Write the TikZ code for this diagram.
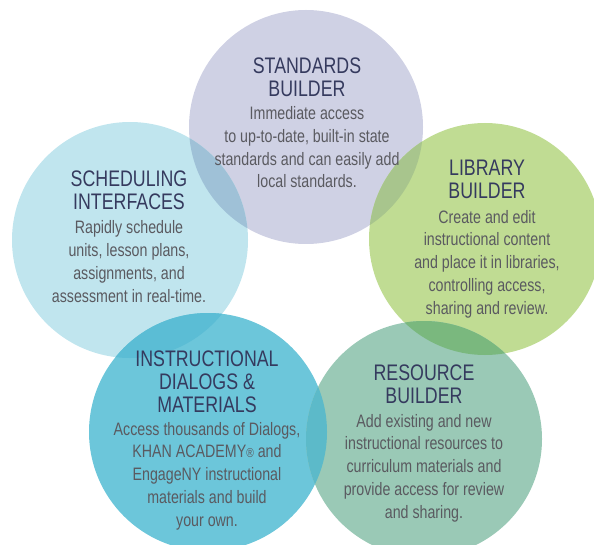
\documentclass[tikz,border=0pt]{standalone}
\usepackage{fontspec}
\setmainfont[FakeStretch=0.79]{Liberation Sans}
\definecolor{cStd}{HTML}{CFD1E4}
\definecolor{cSch}{HTML}{C0E5EE}
\definecolor{cLib}{HTML}{C0DC93}
\definecolor{cIns}{HTML}{6CC6DA}
\definecolor{cRes}{HTML}{9AC9B6}
\definecolor{oSS}{HTML}{9FC1D7}
\definecolor{oSL}{HTML}{A8C58D}
\definecolor{oSI}{HTML}{5BBDD5}
\definecolor{oIR}{HTML}{5CBAC9}
\definecolor{oLR}{HTML}{7AB87E}
\definecolor{ttlcol}{HTML}{353A5E}
\definecolor{bodycol}{HTML}{5A5A60}
\tikzset{
  ttl/.style={anchor=base, align=center, text=ttlcol, inner sep=0pt,
    font=\fontsize{22.5}{23}\selectfont},
  bdy/.style={anchor=base, align=center, text=bodycol, inner sep=0pt,
    font=\fontsize{18}{22.7}\selectfont}
}
\begin{document}
\begin{tikzpicture}[x=1pt,y=-1pt]
\useasboundingbox (0,0) rectangle (594,545);
\def\Cstd{(306,127) circle (117)}
\def\Csch{(130,240) circle (118)}
\def\Clib{(485,239) circle (116)}
\def\Cins{(208,432) circle (119)}
\def\Cres{(424,439) circle (118)}
% base circles
\fill[cStd] \Cstd;
\fill[cSch] \Csch;
\fill[cLib] \Clib;
\fill[cIns] \Cins;
\fill[cRes] \Cres;
% overlaps
\begin{scope}\clip \Cstd; \fill[oSS] \Csch; \end{scope}
\begin{scope}\clip \Cstd; \fill[oSL] \Clib; \end{scope}
\begin{scope}\clip \Csch; \fill[oSI] \Cins; \end{scope}
\begin{scope}\clip \Cins; \fill[oIR] \Cres; \end{scope}
\begin{scope}\clip \Clib; \fill[oLR] \Cres; \end{scope}
% texts (base anchor = baseline of the last line)
\node[ttl] (stdT) at (307,97) {STANDARDS\\BUILDER};
\node[bdy] (stdB) at (307,188) {Immediate access\\to up-to-date, built-in state\\standards and can easily add\\local standards.};
\node[ttl] (schT) at (129,210) {SCHEDULING\\INTERFACES};
\node[bdy] (schB) at (129,302) {Rapidly schedule\\units, lesson plans,\\assignments, and\\assessment in real-time.};
\node[ttl] (libT) at (487,199) {LIBRARY\\BUILDER};
\node[bdy] (libB) at (487,314) {Create and edit\\instructional content\\and place it in libraries,\\controlling access,\\sharing and review.};
\node[ttl] (insT) at (207,412) {INSTRUCTIONAL\\DIALOGS \&\\MATERIALS};
\node[bdy] (insB) at (207,526) {Access thousands of Dialogs,\\KHAN ACADEMY{\fontsize{13}{13}\selectfont\raisebox{0.5pt}{®}} and\\EngageNY instructional\\materials and build\\your own.};
\node[ttl] (resT) at (424,403) {RESOURCE\\BUILDER};
\node[bdy] (resB) at (424,518) {Add existing and new\\instructional resources to\\curriculum materials and\\provide access for review\\and sharing.};
\end{tikzpicture}
\end{document}
